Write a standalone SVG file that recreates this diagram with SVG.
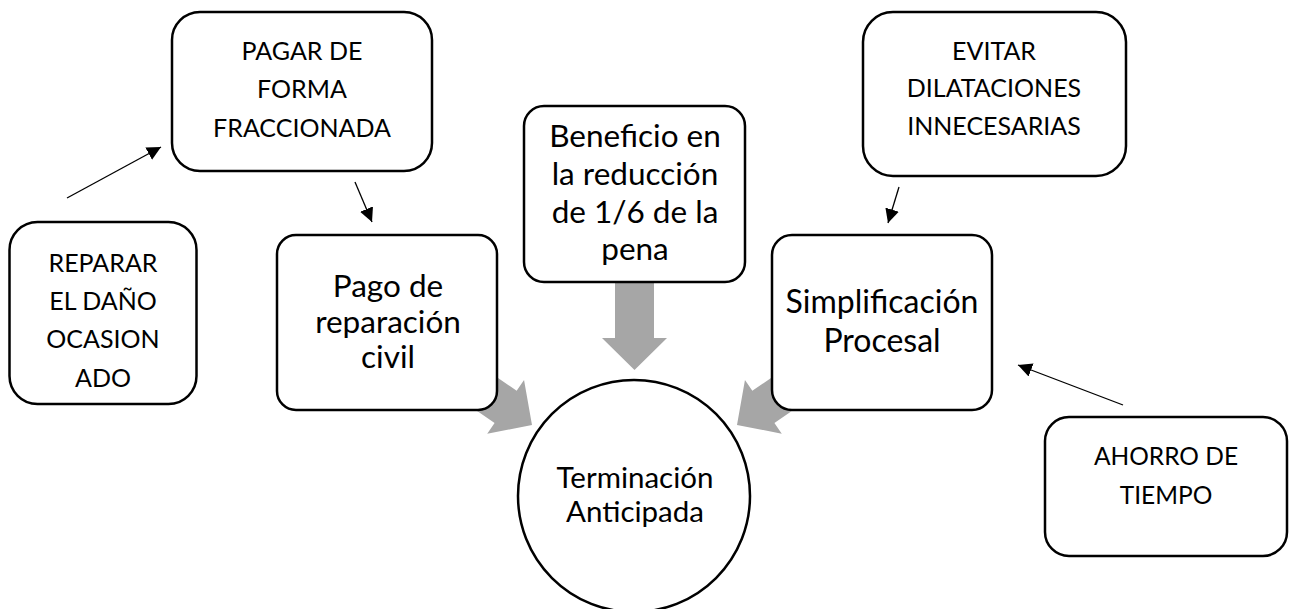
<svg xmlns="http://www.w3.org/2000/svg" width="1295" height="609" viewBox="0 0 1295 609">
<defs>
<style>
.box{fill:#fff;stroke:#000;stroke-width:2.5}
.t{font-family:Lato,"Liberation Sans",sans-serif;fill:#000;text-anchor:middle}
.caps{font-size:25px}
.big{font-size:31.5px}
.circ{font-size:29.5px}
.thin{stroke:#000;stroke-width:1.3;fill:none;marker-end:url(#ah)}
.gray{fill:#A6A6A6;stroke:none}
</style>
<marker id="ah" viewBox="0 0 14 14" refX="14" refY="7" markerWidth="14" markerHeight="14" markerUnits="userSpaceOnUse" orient="auto">
<path d="M0,0 L14,7 L0,14 Z" fill="#000"/>
</marker>
<path id="garrow" d="M-19.5,-110 L19.5,-110 L19.5,-32 L32.5,-32 L0,0 L-32.5,-32 L-19.5,-32 Z"/>
</defs>
<rect width="1295" height="609" fill="#fff"/>
<g id="connectors">
<use href="#garrow" class="gray" transform="translate(634.5,370)"/>
<use href="#garrow" class="gray" transform="translate(532,425) rotate(-55.5)"/>
<use href="#garrow" class="gray" transform="translate(737,425) rotate(55.5)"/>
<line class="thin" x1="67" y1="198" x2="161" y2="147"/>
<line class="thin" x1="355" y1="182" x2="372" y2="222"/>
<line class="thin" x1="899" y1="187" x2="888" y2="223"/>
<line class="thin" x1="1123" y1="405" x2="1018" y2="365"/>
</g>
<g id="n-pagar">
<rect class="box" x="172" y="12" width="260" height="159" rx="28"/>
<text class="t caps" x="302" y="60">PAGAR DE</text>
<text class="t caps" x="302" y="98">FORMA</text>
<text class="t caps" x="302" y="137">FRACCIONADA</text>
</g>
<g id="n-reparar">
<rect class="box" x="9.5" y="222" width="187" height="182" rx="28"/>
<text class="t caps" x="103" y="272">REPARAR</text>
<text class="t caps" x="103" y="310">EL DAÑO</text>
<text class="t caps" x="103" y="348">OCASION</text>
<text class="t caps" x="103" y="387">ADO</text>
</g>
<g id="n-pago">
<rect class="box" x="277" y="235" width="220" height="175" rx="19"/>
<text class="t big" x="388" y="297">Pago de</text>
<text class="t big" x="388" y="333">reparación</text>
<text class="t big" x="388" y="368">civil</text>
</g>
<g id="n-beneficio">
<rect class="box" x="524" y="106" width="221" height="176" rx="20"/>
<text class="t big" x="635" y="147">Beneficio en</text>
<text class="t big" x="635" y="185">la reducción</text>
<text class="t big" x="635" y="223">de 1/6 de la</text>
<text class="t big" x="635" y="260">pena</text>
</g>
<g id="n-simplificacion">
<rect class="box" x="772" y="235" width="220" height="175" rx="20"/>
<text class="t big" x="882" y="313" style="font-size:32px">Simplificación</text>
<text class="t big" x="882" y="352" style="font-size:32px">Procesal</text>
</g>
<g id="n-evitar">
<rect class="box" x="863" y="12" width="263" height="164" rx="30"/>
<text class="t caps" x="994" y="60">EVITAR</text>
<text class="t caps" x="994" y="97">DILATACIONES</text>
<text class="t caps" x="994" y="135">INNECESARIAS</text>
</g>
<g id="n-ahorro">
<rect class="box" x="1045" y="417" width="242" height="139" rx="24"/>
<text class="t caps" x="1166" y="465" style="font-size:24.5px">AHORRO DE</text>
<text class="t caps" x="1166" y="504" style="font-size:24.5px">TIEMPO</text>
</g>
<g id="n-terminacion">
<circle class="box" cx="634" cy="496" r="116"/>
<text class="t circ" x="635" y="488">Terminación</text>
<text class="t circ" x="635" y="522">Anticipada</text>
</g>
</svg>
